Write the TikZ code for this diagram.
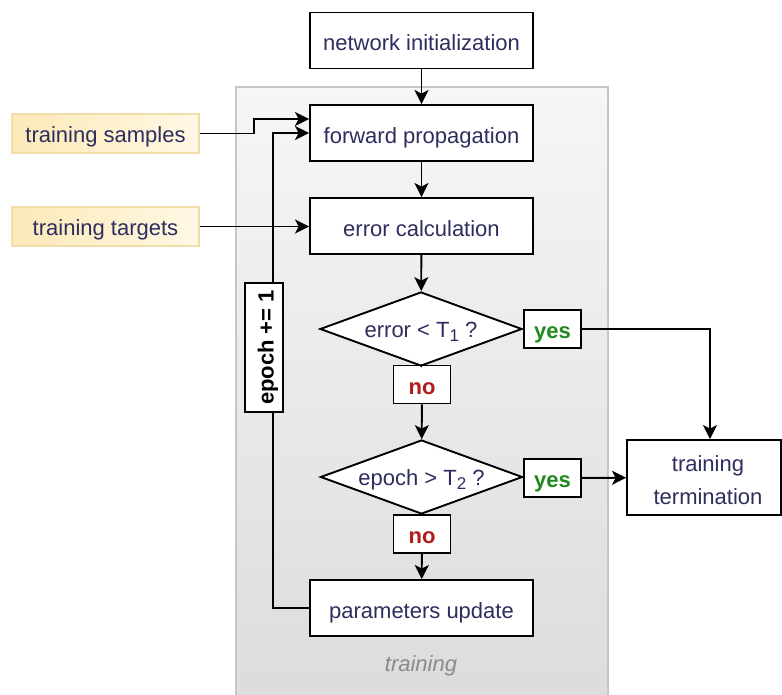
\documentclass[tikz,border=0pt]{standalone}
\usepackage{fontspec}
\setmainfont{Liberation Sans}
\usetikzlibrary{shapes.geometric,arrows.meta,calc}

\definecolor{ink}{HTML}{2E2E5E}
\definecolor{yesgreen}{HTML}{1E8A1E}
\definecolor{nored}{HTML}{B01C1C}
\definecolor{panelline}{HTML}{C6C6C6}
\definecolor{paneltop}{HTML}{F6F6F6}
\definecolor{panelbottom}{HTML}{DCDCDC}
\definecolor{inputleft}{HTML}{FCE9B8}
\definecolor{inputright}{HTML}{FFF8E4}
\definecolor{inputline}{HTML}{F0DDA8}
\definecolor{captiongray}{HTML}{8A8A8A}

% subscript in the text font
\newcommand{\lowsub}[1]{\raisebox{-0.35ex}{\fontsize{17}{17}\selectfont #1}}

\begin{document}
\begin{tikzpicture}[x=1pt,y=-1pt,
  every node/.style={font=\fontsize{22}{33}\selectfont, text=ink},
  stepbox/.style={draw=black, fill=white, line width=1.9pt, inner sep=0pt,
    minimum width=223pt, minimum height=56pt, text height=21pt, text depth=0pt},
  decision/.style={draw=black, fill=white, line width=1.9pt, shape=diamond,
    inner sep=0pt, aspect=2.7, minimum width=202pt, minimum height=74pt,
    text height=16pt, text depth=0pt},
  answer/.style={draw=black, fill=white, line width=1.9pt, inner sep=0pt,
    minimum width=57pt, minimum height=38pt, text height=19pt, text depth=0pt,
    font=\fontsize{22}{26}\selectfont\bfseries},
  inputbox/.style={draw=inputline, line width=1.2pt, left color=inputleft,
    right color=inputright, inner sep=0pt, minimum width=187pt, minimum height=39pt,
    text height=19pt, text depth=0pt},
  flow/.style={line width=1.9pt, draw=black,
    -{Stealth[length=14pt,width=14pt,inset=3.5pt]}},
  link/.style={line width=1.9pt, draw=black}
]
\useasboundingbox (0,0) rectangle (782,695);

% training panel
\path[draw=panelline, line width=1.4pt, top color=paneltop, bottom color=panelbottom]
  (236,87) rectangle (608,702);
\node[text=captiongray, font=\fontsize{22}{26}\selectfont\itshape] (caption) at (421,666) {training};

% process steps
\node[stepbox] (init) at (421.5,40.5) {network initialization};
\node[stepbox] (fwd) at (421.5,133) {forward propagation};
\node[stepbox] (err) at (421.5,226) {error calculation};
\node[decision] (d1) at (421,329) {error < T\lowsub{1} ?};
\node[answer, text=yesgreen] (yes1) at (552.5,329) {yes};
\node[answer, text=nored] (no1) at (422,384.5) {no};
\node[decision] (d2) at (421.5,477) {epoch > T\lowsub{2} ?};
\node[answer, text=yesgreen] (yes2) at (552.5,478) {yes};
\node[answer, text=nored] (no2) at (422,534) {no};
\node[stepbox] (upd) at (421.5,608) {parameters update};
\node[draw=black, fill=white, line width=1.9pt, inner sep=0pt, minimum width=154pt,
  minimum height=75pt, align=center] (term) at (704,477.5)
  {\rule{0pt}{22pt}\hspace{8pt}training\\\hspace{8pt}termination};

% inputs
\node[inputbox] (samples) at (105.5,133.5) {training samples};
\node[inputbox] (targets) at (105.5,226.5) {training targets};

% main flow
\draw[flow] (init) -- (fwd);
\draw[flow] (fwd) -- (err);
\draw[flow] (err) -- (d1);
\draw[link] (d1.east) -- (yes1.west);
\draw[flow] (yes1.east) -| ([xshift=6pt]term.north);
\draw[link] (d1.south) -- (no1.north);
\draw[flow] (no1) -- (d2);
\draw[link] (d2.east) -- (yes2.west);
\draw[flow] (yes2) -- (term);
\draw[link] (d2.south) -- (no2.north);
\draw[flow] (no2) -- (upd);

% inputs into the loop
\coordinate (sjog) at (254,133.5);
\draw[flow] (samples.east) -- (sjog) |- ([yshift=14pt]fwd.west);
\draw[flow] (targets.east) -- (err.west |- targets.east);

% epoch loop back to forward propagation
\coordinate (loopbottom) at (273,608);
\coordinate (looptop) at (273,133);
\draw[flow] (upd.west) -- (loopbottom) -- (looptop) -- (fwd.west);
\node[draw=black, fill=white, line width=1.9pt, inner sep=0pt, rotate=90,
  minimum width=129pt, minimum height=38pt, text=black, text height=19pt, text depth=0pt,
  font=\fontsize{22}{26}\selectfont\bfseries] (epoch) at (264,347.5) {epoch += 1};
\end{tikzpicture}
\end{document}
